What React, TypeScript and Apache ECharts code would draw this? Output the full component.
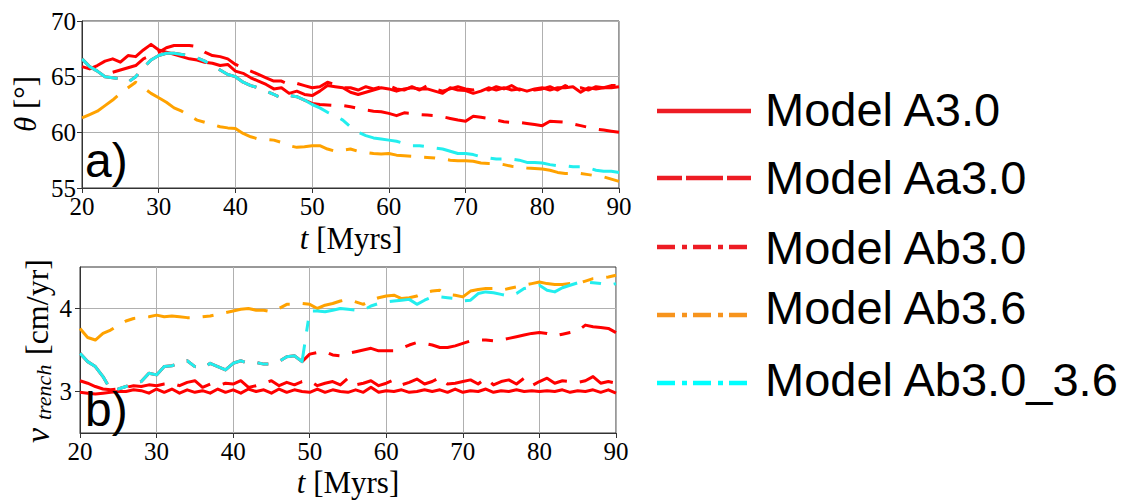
import React, { useEffect, useRef } from "react";
import * as echarts from "echarts";

// ---------- data ----------
const timeMyr = [
  20, 21, 22, 23, 24, 25, 26, 27, 28, 29, 30, 31, 32, 33, 34, 35, 36, 37, 38, 39,
  40, 41, 42, 43, 44, 45, 46, 47, 48, 49, 50, 51, 52, 53, 54, 55, 56, 57, 58, 59,
  60, 61, 62, 63, 64, 65, 66, 67, 68, 69, 70, 71, 72, 73, 74, 75, 76, 77, 78, 79,
  80, 81, 82, 83, 84, 85, 86, 87, 88, 89, 90,
];

const modelNames = ["Model A3.0", "Model Aa3.0", "Model Ab3.0", "Model Ab3.6", "Model Ab3.0_3.6"];

// panel a) theta [deg]
const thetaA30 = [
  65.9, 65.7, 66.0, 66.4, 66.6, 66.3, 66.9, 66.8, 67.4, 67.9, 67.4, 67.2, 67.0, 66.8, 66.6, 66.5, 66.3, 66.2, 66.0, 66.1,
  65.5, 65.3, 64.9, 64.6, 64.3, 63.9, 64.0, 63.5, 63.7, 63.4, 63.3, 63.7, 64.2, 64.1, 64.0, 63.6, 63.4, 63.6, 63.8, 64.0,
  63.9, 63.7, 63.9, 64.0, 63.9, 63.9, 63.7, 63.5, 64.0, 63.8, 63.75, 63.5, 63.7, 64.0, 63.8, 64.0, 63.8, 63.9, 63.7, 63.9,
  64.0, 63.8, 64.0, 64.0, 64.1, 63.6, 64.0, 63.9, 64.0, 64.0, 64.1,
];
const thetaAa30 = [
  null, null, null, null, 65.4, 65.6, 65.8, 66.0, 66.6, 66.9, 67.2, 67.6, 67.8, 67.8, 67.8, 67.7, 67.2, 66.9, 66.8, 66.6,
  66.1, 65.8, 65.5, 65.2, 64.9, 64.6, 64.6, 64.3, 64.4, 64.2, 64.0, 64.1, 64.5, 64.3, 64.0, 64.0, 63.8, 64.1, 63.9, 64.1,
  64.2, 63.9, 63.8, 64.1, 63.8, 64.2, 63.9, 63.7, 63.9, 64.1, 63.9, 63.8, 64.0, 63.8, 64.1, 63.9, 64.2, 63.8, 64.0, 63.8,
  63.9, 64.1, 63.8, 64.2, 63.9, 64.0, 63.8, 64.1, 64.0, 64.2, 64.2,
];
const thetaAb30 = [
  66.6, 65.9, 65.5, 65.0, 64.9, 64.8, 64.5, 65.0, 65.8, 66.5, 66.9, 67.1, 67.1, 67.0, 66.9, 66.7, 66.4, 66.0, 65.6, 65.2,
  65.0, 64.5, 64.2, 64.0, 63.7, 63.4, 63.1, 63.3, 63.2, 62.9, 62.6, 62.5, 62.45, 62.4, 62.4, 62.3, 62.15, 62.0, 61.9, 61.85,
  61.7, 61.5, 61.75, 61.7, 61.6, 61.55, 61.5, 61.4, 61.25, 61.1, 61.0, 61.45, 61.35, 61.25, 61.1, 60.95, 60.9, 60.9, 60.8, 60.7,
  60.6, 61.0, 60.95, 60.9, 60.75, 60.6, 60.45, 60.3, 60.2, 60.1, 60.0,
];
const thetaAb36 = [
  61.3, 61.6, 61.9, 62.4, 62.9, 63.5, 64.0, 64.5, 64.0, 63.5, 63.1, 62.7, 62.2, 61.9, 61.5, 61.1, 60.9, 60.7, 60.5, 60.4,
  60.35, 59.9, 59.6, 59.4, 59.35, 59.3, 59.1, 58.8, 58.65, 58.7, 58.8, 58.8, 58.5, 58.3, 58.4, 58.5, 58.3, 58.2, 58.1, 58.05,
  58.1, 57.95, 57.9, 57.85, 57.8, 57.75, 57.7, 57.6, 57.5, 57.45, 57.45, 57.4, 57.25, 57.2, 57.2, 57.1, 56.95, 56.9, 56.8, 56.75,
  56.7, 56.6, 56.4, 56.3, 56.3, 56.3, 56.2, 56.1, 56.0, 55.8, 55.6,
];
const thetaAb30to36 = [
  66.6, 65.9, 65.5, 65.0, 64.9, 64.8, 64.5, 65.0, 65.8, 66.5, 66.9, 67.1, 67.1, 67.0, 66.9, 66.7, 66.4, 66.0, 65.6, 65.2,
  65.0, 64.5, 64.2, 64.0, 63.7, 63.4, 63.1, 63.3, 63.2, 62.9, 62.5, 62.2, 61.8, 61.5, 61.1, 60.5, 60.0, 59.7, 59.5, 59.4,
  59.3, 59.2, 59.0, 58.8, 58.8, 58.7, 58.6, 58.5, 58.3, 58.1, 58.1, 58.0, 57.8, 57.7, 57.6, 57.6, 57.6, 57.5, 57.3, 57.3,
  57.25, 57.1, 57.0, 57.0, 56.9, 56.9, 56.8, 56.6, 56.5, 56.5, 56.4,
];

// panel b) v_trench [cm/yr]
const vA30 = [
  2.99, 2.98, 2.97, 2.98, 2.99, 3.0, 3.0, 3.02, 3.01, 2.98, 3.03, 2.99, 3.03, 2.98, 3.02, 2.99, 3.01, 2.98, 3.03, 2.99,
  3.02, 2.98, 3.03, 3.0, 3.02, 2.98, 3.03, 2.99, 3.02, 3.0, 2.99, 3.03, 2.99, 3.02, 3.0, 2.99, 3.02, 2.99, 3.05, 2.99,
  3.01, 3.0, 3.02, 2.99, 3.0, 3.02, 3.0, 3.02, 2.99, 3.03, 2.99, 3.01, 3.0, 3.03, 2.99, 3.01, 3.0, 3.02, 3.0, 3.01,
  3.0, 3.01, 3.0, 3.02, 2.99, 3.01, 3.0, 3.02, 2.99, 3.02, 2.98,
];
const vAa30 = [
  3.13, 3.1, 3.06, 3.03, 3.02, 3.03, 3.05, 3.07, 3.06, 3.08, 3.07, 3.09, 3.1, 3.07, 3.11, 3.13, 3.05, 3.09, 3.07, 3.1,
  3.09, 3.13, 3.05, 3.07, 3.1, 3.13, 3.07, 3.11, 3.08, 3.12, 3.13, 3.07, 3.1, 3.12, 3.08, 3.16, 3.08, 3.1, 3.13, 3.07,
  3.1, 3.14, 3.08, 3.11, 3.15, 3.09, 3.12, 3.17, 3.09, 3.1, 3.12, 3.14, 3.09, 3.16, 3.08, 3.12, 3.14, 3.09, 3.16, 3.07,
  3.12, 3.16, 3.1, 3.13, 3.12, 3.11, 3.13, 3.18, 3.1, 3.12, 3.1,
];
const vAb30 = [
  3.46, 3.36, 3.3, 3.18, 3.02, 3.03, 3.06, 3.09, 3.12, 3.22, 3.2, 3.3, 3.31, 3.34, 3.37, 3.3, 3.28, 3.34, 3.3, 3.26,
  3.34, 3.37, 3.34, 3.35, 3.33, 3.33, 3.36, 3.42, 3.43, 3.36, 3.45, 3.47, 3.48, 3.44, 3.43, 3.46, 3.48, 3.5, 3.52, 3.49,
  3.49, 3.49, 3.52, 3.56, 3.59, 3.58, 3.56, 3.53, 3.53, 3.55, 3.58, 3.61, 3.62, 3.62, 3.61, 3.62, 3.64, 3.66, 3.68, 3.7,
  3.71, 3.7, 3.67, 3.69, 3.71, 3.73, 3.8, 3.78, 3.77, 3.76, 3.71,
];
const vAb36 = [
  3.76, 3.65, 3.62, 3.7, 3.74, 3.8, 3.85, 3.88, 3.89, 3.9, 3.92, 3.9, 3.91, 3.9, 3.89, 3.89, 3.9, 3.91, 3.93, 3.95,
  3.97, 3.99, 4.0, 3.98, 3.98, 3.96, 4.0, 4.05, 4.05, 4.06, 4.05, 4.0, 4.04, 4.06, 4.09, 4.11, 4.08, 4.05, 4.1, 4.13,
  4.15, 4.16, 4.12, 4.13, 4.15, 4.19, 4.21, 4.22, 4.17, 4.16, 4.14, 4.21, 4.23, 4.24, 4.24, 4.22, 4.24, 4.26, 4.28, 4.3,
  4.32, 4.3, 4.29, 4.29, 4.3, 4.3, 4.33, 4.36, 4.37, 4.38, 4.4,
];
const vAb30to36 = [
  3.46, 3.36, 3.3, 3.18, 3.02, 3.03, 3.06, 3.09, 3.12, 3.22, 3.2, 3.3, 3.31, 3.34, 3.37, 3.3, 3.28, 3.34, 3.3, 3.26,
  3.34, 3.37, 3.34, 3.35, 3.33, 3.33, 3.36, 3.42, 3.43, 3.36, 3.97, 3.97, 3.96, 3.98, 4.0, 3.99, 3.98, 3.98, 4.03, 4.06,
  4.08, 4.09, 4.1, 4.11, 4.05, 4.1, 4.14, 4.14, 4.13, 4.12, 4.09, 4.1, 4.18, 4.2, 4.19, 4.17, 4.15, 4.18, 4.24, 4.26,
  4.28, 4.22, 4.2, 4.25, 4.28, 4.31, 4.32, 4.31, 4.3, 4.28, 4.3,
];

const thetaTicks = [55, 60, 65, 70];
const vTicks = [3, 4];
const timeTicks = [20, 30, 40, 50, 60, 70, 80, 90];

// ---------- styles ----------
const RED = "#ff0000";
const ORANGE = "#ffa200";
const CYAN = "#22eeee";
const LEG_RED = "#ed1c24";
const LEG_ORANGE = "#f7941d";
const LEG_CYAN = "#00ffff";
const DASHED = [37, 13];
const DASHDOT = [42, 13, 11, 13];
const SERIF = "'Liberation Serif', 'Times New Roman', serif";
const SANS = "'Liberation Sans', Arial, Helvetica, sans-serif";

const styles = [
  { color: RED, type: "solid" as any },
  { color: RED, type: DASHED as any },
  { color: RED, type: DASHDOT as any },
  { color: ORANGE, type: DASHDOT as any },
  { color: CYAN, type: DASHDOT as any },
];

function mkSeries(idx: number, values: (number | null)[], panel: number) {
  return {
    name: modelNames[idx] + (panel === 0 ? " (a)" : " (b)"),
    type: "line",
    xAxisIndex: panel,
    yAxisIndex: panel,
    data: timeMyr.map((t, i) => [t, values[i]]),
    symbol: "none",
    showSymbol: false,
    silent: true,
    connectNulls: false,
    lineStyle: { color: styles[idx].color, width: 3, type: styles[idx].type, cap: "butt", join: "round" },
    z: 2 + idx,
  };
}

function axisX(gridIndex: number) {
  return {
    type: "value",
    gridIndex,
    min: 20,
    max: 90,
    interval: 10,
    axisLine: { show: true, lineStyle: { color: "#333", width: 1 } },
    axisTick: { show: true, inside: false, length: 5, lineStyle: { color: "#333" } },
    axisLabel: {
      color: "#000",
      fontFamily: SERIF,
      fontSize: 25,
      margin: 6,
      formatter: (v: number) => (timeTicks.includes(v) ? String(v) : ""),
    },
    splitLine: { show: true, lineStyle: { color: "#b0b0b0", width: 1 } },
  };
}

function rotText(text: string, x: number, y: number, size: number, italic: boolean) {
  return {
    type: "text",
    silent: true,
    x,
    y,
    rotation: Math.PI / 2,
    style: {
      text,
      fontFamily: SERIF,
      fontSize: size,
      fontStyle: italic ? "italic" : "normal",
      fill: "#000",
      align: "left",
      verticalAlign: "middle",
    },
  };
}

export default function App() {
  const ref = useRef<HTMLDivElement>(null);

  useEffect(() => {
    if (!ref.current) return;
    const chart = echarts.init(ref.current, undefined, { renderer: "svg" });

    const legendRows = [
      { y: 111, color: LEG_RED, dash: null, x2: 751, off: 0 },
      { y: 178, color: LEG_RED, dash: [37, 4], x2: 751, off: 12 },
      { y: 247, color: LEG_RED, dash: [18, 7, 5, 6], x2: 747, off: 0 },
      { y: 315, color: LEG_ORANGE, dash: [18, 7, 5, 6], x2: 747, off: 0 },
      { y: 383, color: LEG_CYAN, dash: [18, 7, 5, 6], x2: 747, off: 0 },
    ];
    const legendTextY = [109, 177, 247, 307, 379];

    const graphics: any[] = [];
    legendRows.forEach((r, i) => {
      graphics.push({
        type: "line",
        silent: true,
        shape: { x1: 657, y1: r.y, x2: r.x2, y2: r.y },
        style: {
          stroke: r.color,
          lineWidth: 4.5,
          lineDash: r.dash || undefined,
          lineDashOffset: r.off,
        },
      });
      graphics.push({
        type: "text",
        silent: true,
        x: 765,
        y: legendTextY[i],
        style: {
          text: modelNames[i],
          fontFamily: SANS,
          fontSize: 47,
          fill: "#000",
          align: "left",
          verticalAlign: "middle",
        },
      });
    });

    // panel labels
    graphics.push({
      type: "text",
      silent: true,
      x: 85,
      y: 160,
      style: { text: "a)", fontFamily: SANS, fontSize: 48, fill: "#000", align: "left", verticalAlign: "middle" },
      z: 100,
    });
    graphics.push({
      type: "text",
      silent: true,
      x: 85,
      y: 409,
      style: { text: "b)", fontFamily: SANS, fontSize: 48, fill: "#000", align: "left", verticalAlign: "middle" },
      z: 100,
    });

    // axis names
    const richItalic = { fontStyle: "italic", fontFamily: SERIF, fontSize: 31, fill: "#000", color: "#000" };
    const richPlain = { fontFamily: SERIF, fontSize: 31, fill: "#000", color: "#000" };
    [
      { x: 351, y: 238 },
      { x: 348, y: 482 },
    ].forEach((p) =>
      graphics.push({
        type: "text",
        silent: true,
        x: p.x,
        y: p.y,
        style: {
          text: "{i|t}{p| [Myrs]}",
          rich: { i: richItalic, p: richPlain },
          fontFamily: SERIF,
          fontSize: 31,
          fill: "#000",
          align: "center",
          verticalAlign: "middle",
        },
      })
    );
    graphics.push({
      type: "text",
      silent: true,
      x: 25,
      y: 104,
      rotation: Math.PI / 2,
      style: {
        text: "{i|θ}{p| [°]}",
        rich: { i: richItalic, p: richPlain },
        fontFamily: SERIF,
        fontSize: 31,
        fill: "#000",
        align: "center",
        verticalAlign: "middle",
      },
    });
    // v_trench [cm/yr], built from pieces so the subscript sits on a lower baseline
    graphics.push(rotText("v", 37, 443, 34, true));
    graphics.push(rotText("trench", 43, 420, 22, true));
    graphics.push(rotText("[cm/yr]", 37, 355, 32, false));

    const option: any = {
      animation: false,
      backgroundColor: "#ffffff",
      grid: [
        { left: 82, top: 21, width: 537, height: 167, show: true, borderColor: "#333", borderWidth: 1, backgroundColor: "transparent" },
        { left: 80, top: 267, width: 536, height: 166, show: true, borderColor: "#333", borderWidth: 1, backgroundColor: "transparent" },
      ],
      xAxis: [axisX(0), axisX(1)],
      yAxis: [
        {
          type: "value",
          gridIndex: 0,
          min: 55,
          max: 70,
          interval: 5,
          axisLine: { show: true, lineStyle: { color: "#333", width: 1 } },
          axisTick: { show: true, inside: false, length: 5, lineStyle: { color: "#333" } },
          axisLabel: {
            color: "#000",
            fontFamily: SERIF,
            fontSize: 25,
            margin: 6,
            formatter: (v: number) => (thetaTicks.includes(v) ? String(v) : ""),
          },
          splitLine: { show: true, lineStyle: { color: "#b0b0b0", width: 1 } },
        },
        {
          type: "value",
          gridIndex: 1,
          min: 2.5,
          max: 4.5,
          interval: 0.5,
          axisLine: { show: true, lineStyle: { color: "#333", width: 1 } },
          axisTick: { show: true, inside: false, length: 5, lineStyle: { color: "#333" }, customValues: vTicks },
          axisLabel: {
            color: "#000",
            fontFamily: SERIF,
            fontSize: 25,
            margin: 8,
            formatter: (v: number) => (vTicks.includes(v) ? String(v) : ""),
          },
          splitLine: { show: true, lineStyle: { color: ["rgba(0,0,0,0)", "#b0b0b0"], width: 1 } },
        },
      ],
      series: [
        mkSeries(0, thetaA30, 0),
        mkSeries(1, thetaAa30, 0),
        mkSeries(2, thetaAb30, 0),
        mkSeries(3, thetaAb36, 0),
        mkSeries(4, thetaAb30to36, 0),
        mkSeries(0, vA30, 1),
        mkSeries(1, vAa30, 1),
        mkSeries(2, vAb30, 1),
        mkSeries(3, vAb36, 1),
        mkSeries(4, vAb30to36, 1),
      ],
      graphic: graphics,
    };

    chart.setOption(option);
    return () => chart.dispose();
  }, []);

  return (
    <div
      ref={ref}
      style={{ position: "fixed", left: 0, top: 0, width: 1132, height: 503, background: "#fff" }}
    />
  );
}
